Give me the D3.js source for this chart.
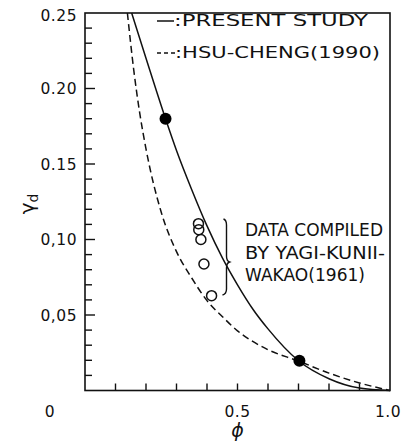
<!DOCTYPE html>
<html>
<meta charset='utf-8'>
<head>
    <script src="https://d3js.org/d3.v7.min.js"></script>
    <style>
      body { margin: 0; background: #fff; }
      text { font-family: 'DejaVu Sans', sans-serif; fill: #111; }
    </style>
</head>
<body>
<div id='viz'></div>
<script>
    // present study (solid)
    let presentPhi = [0.153, 0.2, 0.264, 0.3, 0.35, 0.4, 0.45, 0.5, 0.55, 0.6, 0.7, 0.8, 0.9, 1.0];
    let presentGamma = [0.25, 0.220, 0.180, 0.159, 0.133, 0.109, 0.088, 0.070, 0.054, 0.0408, 0.0197, 0.0078, 0.0016, 0];

    // hsu-cheng 1990 (dashed)
    let hsuPhi = [0.139, 0.16, 0.18, 0.2, 0.25, 0.3, 0.35, 0.4, 0.45, 0.5, 0.55, 0.6, 0.7, 0.8, 0.9, 1.0];
    let hsuGamma = [0.25, 0.212, 0.183, 0.160, 0.118, 0.092, 0.0745, 0.0595, 0.049, 0.0395, 0.0325, 0.027, 0.0195, 0.0115, 0.005, 0];

    // filled points
    let dotPhi = [0.264, 0.703];
    let dotGamma = [0.180, 0.0197];

    // yagi-kunii-wakao data (open circles)
    let dataPhi = [0.372, 0.373, 0.380, 0.390, 0.415];
    let dataGamma = [0.1105, 0.1065, 0.100, 0.0838, 0.0628];

    let yLabelVals = [0.25, 0.20, 0.15, 0.10, 0.05];
    let yLabelText = ['0.25', '0.20', '0.15', '0,10', '0,05'];
    let xLabelVals = [0, 0.5, 1.0];
    let xLabelText = ['0', '0.5', '1.0'];

    let legendText = [':PRESENT STUDY', ':HSU-CHENG(1990)'];
    let noteLines = ['DATA COMPILED', 'BY YAGI-KUNII-', 'WAKAO(1961)'];

    let W = 405, H = 445;
    let svg = d3.select('#viz').append('svg')
                .attr('width', W)
                .attr('height', H);

    let x = d3.scaleLinear().domain([0, 1]).range([85, 390]);
    let y = d3.scaleLinear().domain([0, 0.25]).range([390.5, 13]);

    // frame
    svg.append('rect')
        .attr('x', x(0)).attr('y', y(0.25))
        .attr('width', x(1) - x(0)).attr('height', y(0) - y(0.25))
        .attr('fill', 'none').attr('stroke', '#111').attr('stroke-width', 1.6);

    // y ticks, inward
    let yTicks = d3.range(1, 25).map(i => i / 100);
    svg.selectAll('.ytick').data(yTicks).enter().append('line')
        .attr('x1', x(0))
        .attr('x2', d => x(0) + (Math.round(d * 100) % 5 === 0 ? 10 : 7))
        .attr('y1', d => y(d)).attr('y2', d => y(d))
        .attr('stroke', '#111').attr('stroke-width', 1.4);

    // x ticks, inward
    let xTicks = d3.range(1, 10).map(i => i / 10);
    svg.selectAll('.xtick').data(xTicks).enter().append('line')
        .attr('x1', d => x(d)).attr('x2', d => x(d))
        .attr('y1', y(0)).attr('y2', y(0) - 7)
        .attr('stroke', '#111').attr('stroke-width', 1.4);

    // y labels
    svg.selectAll('.ylab').data(yLabelVals).enter().append('text')
        .attr('x', x(0) - 8)
        .attr('y', (d, i) => y(d) + (i === 0 ? 2 : 0))
        .attr('dy', '0.36em')
        .attr('text-anchor', 'end')
        .attr('font-size', 15.5)
        .attr('letter-spacing', 0.5)
        .text((d, i) => yLabelText[i]);

    // x labels
    let xLabelPos = [x(0) - 35, x(0.5), x(1) - 2];
    svg.selectAll('.xlab').data(xLabelVals).enter().append('text')
        .attr('x', (d, i) => xLabelPos[i])
        .attr('y', 417)
        .attr('text-anchor', 'middle')
        .attr('font-size', 15.5)
        .attr('letter-spacing', 0.5)
        .text((d, i) => xLabelText[i]);

    // axis titles
    svg.append('text')
        .attr('x', x(0.5)).attr('y', 437)
        .attr('text-anchor', 'middle')
        .attr('font-size', 19)
        .attr('font-style', 'italic')
        .text('\u03D5');

    let gl = svg.append('g')
        .attr('transform', 'translate(34,204) rotate(-90)')
        .append('text')
        .attr('x', 0).attr('y', 0)
        .attr('text-anchor', 'middle')
        .attr('font-size', 20);
    gl.append('tspan').text('\u03B3');
    gl.append('tspan').attr('font-size', 14).attr('dy', 4).text('d');

    // curves
    let line = d3.line()
        .x(d => x(d[0]))
        .y(d => y(d[1]))
        .curve(d3.curveMonotoneX);

    svg.append('path')
        .datum(presentPhi.map((p, i) => [p, presentGamma[i]]))
        .attr('d', line)
        .attr('fill', 'none').attr('stroke', '#111').attr('stroke-width', 1.5);

    svg.append('path')
        .datum(hsuPhi.map((p, i) => [p, hsuGamma[i]]))
        .attr('d', line)
        .attr('fill', 'none').attr('stroke', '#111').attr('stroke-width', 1.5)
        .attr('stroke-dasharray', '7,4');

    // filled dots
    svg.selectAll('.dot').data(dotPhi).enter().append('circle')
        .attr('cx', d => x(d))
        .attr('cy', (d, i) => y(dotGamma[i]))
        .attr('r', 6)
        .attr('fill', '#000');

    // open circles
    svg.selectAll('.odot').data(dataPhi).enter().append('circle')
        .attr('cx', d => x(d))
        .attr('cy', (d, i) => y(dataGamma[i]))
        .attr('r', 5)
        .attr('fill', 'none')
        .attr('stroke', '#111').attr('stroke-width', 1.5);

    // brace
    let bx = 226.5, bt = 220, bm = 262, bb = 295;
    svg.append('path')
        .attr('d', `M${bx - 3},${bt - 1} Q${bx},${bt} ${bx},${bt + 5} L${bx},${bm - 6} Q${bx},${bm - 1} ${bx + 3},${bm}` +
                   ` Q${bx},${bm + 1} ${bx},${bm + 6} L${bx},${bb - 6} Q${bx},${bb - 1} ${bx - 4},${bb}`)
        .attr('fill', 'none').attr('stroke', '#111').attr('stroke-width', 1.4);

    // note text
    let noteWidths = [138, 140, 120];
    svg.selectAll('.note').data(noteLines).enter().append('text')
        .attr('x', 245)
        .attr('y', (d, i) => 236 + i * 22.5)
        .attr('font-size', 17)
        .attr('textLength', (d, i) => noteWidths[i])
        .attr('lengthAdjust', 'spacingAndGlyphs')
        .text(d => d);

    // legend
    let legY = [26, 58];
    svg.append('line')
        .attr('x1', 157).attr('x2', 174)
        .attr('y1', legY[0] - 5).attr('y2', legY[0] - 5)
        .attr('stroke', '#111').attr('stroke-width', 1.5);
    svg.append('line')
        .attr('x1', 157).attr('x2', 175)
        .attr('y1', legY[1] - 5).attr('y2', legY[1] - 5)
        .attr('stroke', '#111').attr('stroke-width', 1.5)
        .attr('stroke-dasharray', '4,3');
    let legWidths = [194, 205];
    svg.selectAll('.leg').data(legendText).enter().append('text')
        .attr('x', (d, i) => i === 0 ? 174 : 175)
        .attr('y', (d, i) => legY[i])
        .attr('font-size', 15)
        .attr('textLength', (d, i) => legWidths[i])
        .attr('lengthAdjust', 'spacingAndGlyphs')
        .text(d => d);
</script>
</body>
</html>
